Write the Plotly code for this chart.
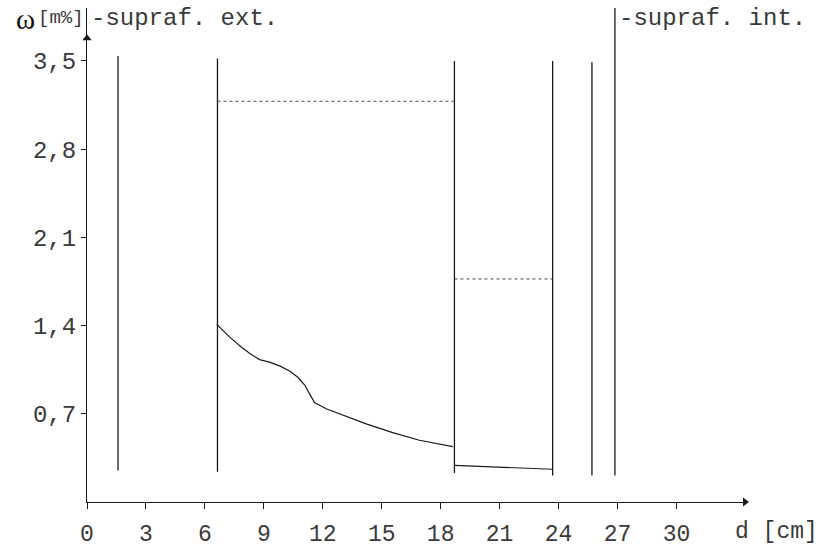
import plotly.graph_objects as go

# ---- data ----
layer_x = [1.58, 6.64, 18.7, 23.7, 25.7, 26.87]
layer_bottom = [0.25, 0.24, 0.23, 0.21, 0.21, 0.21]
layer_top = [3.54, 3.52, 3.50, 3.50, 3.49, 3.92]

curve_x = [6.61, 7.25, 7.85, 8.27, 8.78, 9.29, 9.80, 10.31, 10.73, 11.07, 11.36,
           11.58, 12.17, 13.19, 14.21, 15.56, 16.92, 18.62]
curve_y = [1.41, 1.31, 1.23, 1.18, 1.13, 1.11, 1.08, 1.04, 0.99, 0.93, 0.85,
           0.79, 0.74, 0.68, 0.62, 0.55, 0.49, 0.44]

seg2_x = [18.7, 23.7]
seg2_y = [0.29, 0.26]

dash1_x = [6.64, 18.7]
dash1_y = [3.18, 3.18]
dash2_x = [18.7, 23.7]
dash2_y = [1.77, 1.77]

x_ticks = [0, 3, 6, 9, 12, 15, 18, 21, 24, 27, 30]
y_ticks = [0.7, 1.4, 2.1, 2.8, 3.5]
y_ticktext = ["0,7", "1,4", "2,1", "2,8", "3,5"]

X_MAX = 33.49
Y_MAX = 3.92

LINE = "#1a1a1a"
TEXT = "#3a3a3a"
MONO = "Liberation Mono"

fig = go.Figure()

for x, b, t in zip(layer_x, layer_bottom, layer_top):
    fig.add_trace(go.Scatter(x=[x, x], y=[b, t], mode="lines",
                             line=dict(color=LINE, width=1.3), hoverinfo="skip",
                             cliponaxis=False))

fig.add_trace(go.Scatter(x=curve_x, y=curve_y, mode="lines",
                         line=dict(color=LINE, width=1.2)))
fig.add_trace(go.Scatter(x=seg2_x, y=seg2_y, mode="lines",
                         line=dict(color=LINE, width=1.2)))
fig.add_trace(go.Scatter(x=dash1_x, y=dash1_y, mode="lines",
                         line=dict(color="#444", width=1, dash="3px,3px")))
fig.add_trace(go.Scatter(x=dash2_x, y=dash2_y, mode="lines",
                         line=dict(color="#444", width=1, dash="3px,3px")))

# axis arrowheads
fig.add_trace(go.Scatter(x=[0], y=[3.68], mode="markers", cliponaxis=False,
                         marker=dict(symbol="triangle-up", size=8, color=LINE)))
fig.add_trace(go.Scatter(x=[X_MAX], y=[0], mode="markers", cliponaxis=False,
                         marker=dict(symbol="triangle-right", size=8, color=LINE)))

fig.update_layout(
    width=823, height=556,
    margin=dict(l=87, r=78, t=8, b=54),
    paper_bgcolor="white", plot_bgcolor="white",
    showlegend=False,
    xaxis=dict(range=[0, X_MAX], tickvals=x_ticks, ticktext=[str(v) for v in x_ticks],
               showline=True, linecolor=LINE, linewidth=1.2, ticks="outside",
               ticklen=6, tickcolor=LINE, showgrid=False, zeroline=False,
               ticklabelstandoff=4,
               tickfont=dict(family=MONO, size=23, color=TEXT)),
    yaxis=dict(range=[0, Y_MAX], tickvals=y_ticks, ticktext=y_ticktext,
               showline=True, linecolor=LINE, linewidth=1.2, ticks="outside",
               ticklen=5, tickcolor=LINE, showgrid=False, zeroline=False,
               tickfont=dict(family=MONO, size=24, color=TEXT)),
)

fig.add_annotation(x=0, y=3.84, xref="x", yref="y", text="-supraf. ext.",
                   showarrow=False, xanchor="left", yanchor="middle", xshift=2,
                   font=dict(family=MONO, size=24, color=TEXT))
fig.add_annotation(x=layer_x[-1], y=3.84, xref="x", yref="y", text="-supraf. int.",
                   showarrow=False, xanchor="left", yanchor="middle", xshift=2,
                   font=dict(family=MONO, size=24, color=TEXT))
fig.add_annotation(x=0, y=3.84, xref="x", yref="y", text="[m%]",
                   showarrow=False, xanchor="right", yanchor="middle", xshift=-1,
                   font=dict(family=MONO, size=19, color=TEXT))
fig.add_annotation(x=0, y=3.835, xref="x", yref="y", text="ω",
                   showarrow=False, xanchor="right", yanchor="middle", xshift=-50,
                   font=dict(family="Liberation Serif", size=29, color="#111"))
fig.add_annotation(x=X_MAX, y=0, xref="x", yref="y", text="d [cm]",
                   showarrow=False, xanchor="left", yanchor="top", xshift=-12, yshift=-15,
                   font=dict(family=MONO, size=23, color=TEXT))

fig.write_html("out.html")
